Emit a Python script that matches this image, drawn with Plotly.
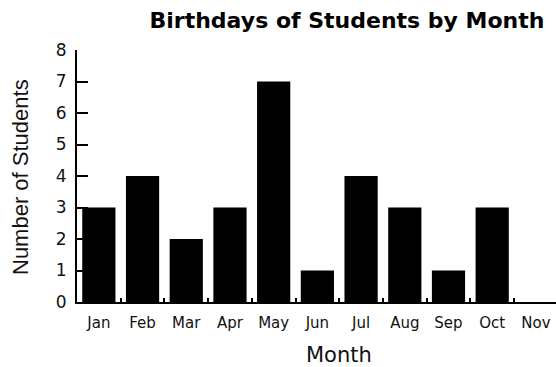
import plotly.graph_objects as go

# Birthday counts per month
months = ["Jan", "Feb", "Mar", "Apr", "May", "Jun", "Jul", "Aug", "Sep", "Oct", "Nov"]
students = [3, 4, 2, 3, 7, 1, 4, 3, 1, 3, 0]
y_ticks = [0, 1, 2, 3, 4, 5, 6, 7, 8]

W, H = 556, 367
L, R, T, B = 77, 0, 50, 65

fig = go.Figure(
    go.Bar(
        x=months,
        y=students,
        marker=dict(color="black", line=dict(width=0)),
        width=0.76,
    )
)

fig.update_layout(
    width=W,
    height=H,
    margin=dict(l=L, r=R, t=T, b=B),
    paper_bgcolor="white",
    plot_bgcolor="white",
    showlegend=False,
    title=dict(
        text="<b>Birthdays of Students by Month</b>",
        font=dict(family="DejaVu Sans", size=22, color="black"),
        xref="container", x=347 / W, xanchor="center",
        yref="container", y=1 - 20 / H, yanchor="middle",
    ),
)

fig.update_xaxes(
    type="category",
    range=[-0.5, 10.46],
    showline=True, linecolor="black", linewidth=2,
    ticks="inside", tickson="boundaries", ticklen=4, tickwidth=2, tickcolor="black",
    tickfont=dict(family="DejaVu Sans", size=15, color="#111"),
    ticklabelstandoff=6,
    showgrid=False, zeroline=False,
)

fig.update_yaxes(
    range=[0, 8],
    tickvals=y_ticks,
    showline=True, linecolor="black", linewidth=2,
    ticks="inside", ticklen=11, tickwidth=2, tickcolor="black",
    tickfont=dict(family="DejaVu Sans", size=17, color="#111"),
    ticklabelstandoff=5,
    showgrid=False, zeroline=False,
)

# Axis titles
fig.add_annotation(
    text="Month", xref="x", x=5.5, yref="paper", y=-53 / 252,
    xanchor="center", yanchor="middle", showarrow=False,
    font=dict(family="DejaVu Sans", size=21, color="#111"),
)
fig.add_annotation(
    text="Number of Students", xref="paper", x=(20 - L) / (W - L - R),
    yref="paper", y=0.496, textangle=-90,
    xanchor="center", yanchor="middle", showarrow=False,
    font=dict(family="Liberation Sans", size=22, color="#111"),
)

fig.write_html("out.html")
